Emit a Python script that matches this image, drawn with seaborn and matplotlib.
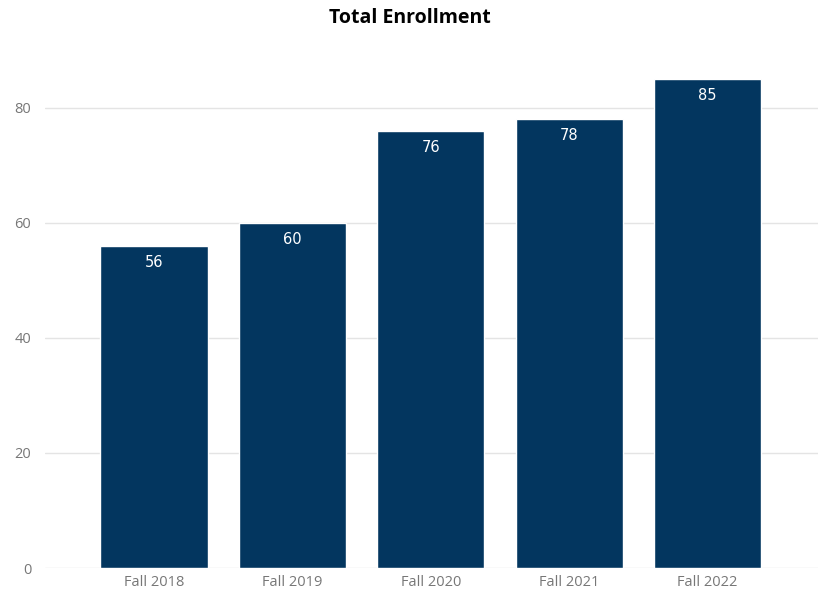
import matplotlib
matplotlib.use("Agg")
import matplotlib.pyplot as plt
import seaborn as sns
import pandas as pd

categories = ["Fall 2018", "Fall 2019", "Fall 2020", "Fall 2021", "Fall 2022"]
enrollment = [56, 60, 76, 78, 85]
yticks = [0, 20, 40, 60, 80]

sns.set_theme(style="white")
plt.rcParams['font.family'] = ['Open Sans', 'DejaVu Sans']

df = pd.DataFrame({"term": categories, "count": enrollment})

fig = plt.figure(figsize=(8.2, 5.92), dpi=100)
ax = fig.add_axes([0.055, 0.0405, 0.943, 0.875])
sns.barplot(data=df, x="term", y="count", color="#03365f", width=0.775,
            saturation=1, ax=ax, zorder=3)

ax.set_ylim(0, 90)
ax.set_xlim(-0.786, 4.8)
ax.set_yticks(yticks)
ax.yaxis.grid(True, color="#e4e4e4", linewidth=1, zorder=0)
ax.set_axisbelow(True)
for s in ax.spines.values():
    s.set_visible(False)
ax.tick_params(axis="both", length=0, labelsize=10.5, labelcolor="#777777")
ax.tick_params(axis="x", pad=5)
ax.tick_params(axis="y", pad=10)
ax.set_xlabel("")
ax.set_ylabel("")

for i, v in enumerate(enrollment):
    ax.annotate(str(v), (i, v), xytext=(0, -12), textcoords="offset points",
                ha="center", va="center", color="white", fontsize=10.5,
                family=["DejaVu Sans"])

fig.suptitle("Total Enrollment", y=0.987, fontsize=14, fontweight="bold", color="black")

fig.savefig("out.png", dpi=100)
